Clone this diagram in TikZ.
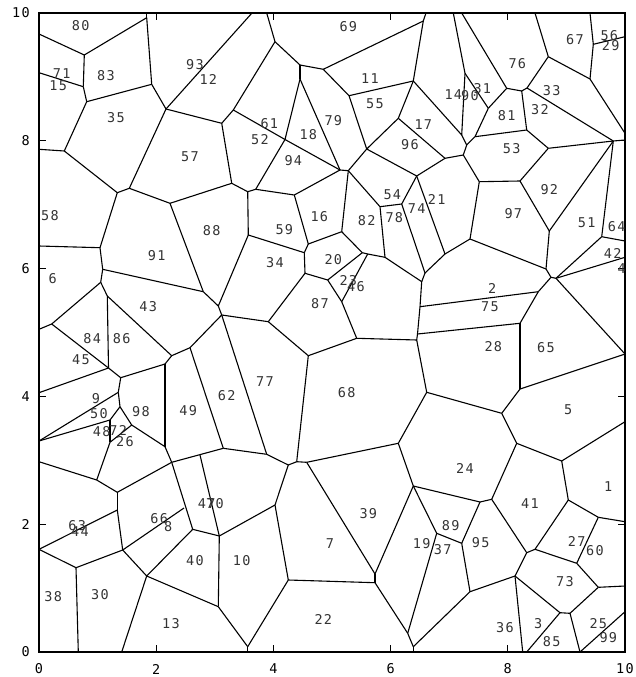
\documentclass[tikz,border=0pt]{standalone}
\usepackage{fontspec}
\newfontfamily\lblfont[LetterSpace=10]{DejaVu Sans Mono}
\begin{document}
\begin{tikzpicture}[x=1pt,y=-1pt,
  edge/.style={line width=1.1pt,black},
  frame/.style={line width=1.6pt,black},
  tick/.style={line width=1pt,black},
  lbl/.style={font=\lblfont\fontsize{13.5}{14}\selectfont,text=black!80,inner sep=0pt},
  axl/.style={font=\lblfont\fontsize{13.5}{14}\selectfont,text=black,inner sep=0pt}]
\useasboundingbox (0,0) rectangle (635,677);
% ---- vertices ----
\coordinate (A) at (84.3,55);
\coordinate (B) at (146.7,17.7);
\coordinate (F) at (83.3,86.7);
\coordinate (C) at (151.7,84.3);
\coordinate (D) at (86.7,101.7);
\coordinate (G) at (64.3,151);
\coordinate (E) at (166,109);
\coordinate (J) at (221.7,123.3);
\coordinate (H) at (117.3,192.7);
\coordinate (H2) at (129.3,188.3);
\coordinate (K) at (170,203.3);
\coordinate (L) at (100,247.7);
\coordinate (M) at (102.7,269.3);
\coordinate (N) at (203.3,291.7);
\coordinate (N2) at (218.3,306);
\coordinate (N3) at (221.7,315);
\coordinate (O) at (100.7,282.3);
\coordinate (P) at (107.3,296);
\coordinate (O2) at (51.7,324);
\coordinate (Q) at (108.5,368);
\coordinate (R) at (120.7,377.7);
\coordinate (S) at (165,364);
\coordinate (U) at (171.7,355.7);
\coordinate (V) at (190,347.7);
\coordinate (T) at (118.3,392.3);
\coordinate (X1) at (120,406.7);
\coordinate (X2) at (110,420);
\coordinate (X3) at (131.7,425);
\coordinate (X4) at (110,442.3);
\coordinate (W) at (165,446.7);
\coordinate (Z) at (171.7,462.3);
\coordinate (Y) at (96.7,480);
\coordinate (AA) at (117.3,492.3);
\coordinate (BB) at (223.3,448.3);
\coordinate (CC) at (266.7,454.3);
\coordinate (DD) at (288.3,465);
\coordinate (EE) at (296.7,461.7);
\coordinate (FF) at (306.7,462.3);
\coordinate (GG) at (308.3,355.7);
\coordinate (b1) at (275,41.7);
\coordinate (b2) at (300,65);
\coordinate (b2a) at (300,79);
\coordinate (b3) at (323.3,69.3);
\coordinate (b4) at (233.3,110);
\coordinate (b6) at (285,139.5);
\coordinate (b7) at (349,95.7);
\coordinate (b8) at (413.3,81);
\coordinate (b9) at (398.3,118.3);
\coordinate (b10) at (366.7,149);
\coordinate (b11) at (340,170);
\coordinate (b12) at (348.3,170.7);
\coordinate (t1) at (423.3,21);
\coordinate (c1) at (255.7,189.3);
\coordinate (c2) at (247.7,191.7);
\coordinate (c3) at (294.3,195);
\coordinate (c4) at (231.7,183.3);
\coordinate (c5) at (248.3,235);
\coordinate (c6) at (304.3,252.7);
\coordinate (c7) at (308.3,244);
\coordinate (c8) at (305,273.3);
\coordinate (c9) at (341.7,231.7);
\coordinate (c10) at (362.3,252.7);
\coordinate (c11) at (327.7,280);
\coordinate (c12) at (367.7,254);
\coordinate (c13) at (341.7,301.7);
\coordinate (c14) at (385,257.3);
\coordinate (c15) at (268.3,321.7);
\coordinate (c16) at (356.7,338.3);
\coordinate (c17) at (416.7,340);
\coordinate (c18) at (380,206.7);
\coordinate (c19) at (421.7,281.7);
\coordinate (c20) at (401.7,204);
\coordinate (c21) at (416.7,176);
\coordinate (c22) at (425,273);
\coordinate (c23) at (420,306.7);
\coordinate (c24) at (417.5,334);
\coordinate (d14) at (461.7,135);
\coordinate (d15) at (465,73.3);
\coordinate (d16) at (488.3,108.3);
\coordinate (d17) at (506.7,88.3);
\coordinate (d18) at (521.7,91);
\coordinate (d19) at (527,88);
\coordinate (d20) at (548.3,56.7);
\coordinate (d1) at (593.3,44.3);
\coordinate (d21) at (590,79);
\coordinate (d22) at (526.7,130);
\coordinate (d23) at (475,136.7);
\coordinate (d24) at (466.7,145);
\coordinate (d25) at (463.3,155);
\coordinate (d26) at (445,158.3);
\coordinate (d27) at (548.3,148.3);
\coordinate (e1) at (613.3,141);
\coordinate (g1) at (479.3,181.7);
\coordinate (g2) at (520,181);
\coordinate (g5) at (470,239);
\coordinate (g6) at (445,254);
\coordinate (g7) at (549.3,231);
\coordinate (g8) at (546,269);
\coordinate (g3) at (551,277.3);
\coordinate (g4) at (556,278.3);
\coordinate (g9) at (538.3,291.7);
\coordinate (g10) at (520,323.3);
\coordinate (g11) at (601.7,236.7);
\coordinate (f1) at (426.7,392.3);
\coordinate (f2) at (501.7,413.3);
\coordinate (f4) at (520,389);
\coordinate (f5) at (516.7,443.3);
\coordinate (f6) at (561.7,461);
\coordinate (HH) at (398.3,443.3);
\coordinate (f3) at (413.3,486);
\coordinate (h1) at (480,502);
\coordinate (h2) at (491.7,499.3);
\coordinate (h3) at (461.7,543.3);
\coordinate (h4) at (436.7,533.3);
\coordinate (h5) at (470,591.7);
\coordinate (h6) at (515,576);
\coordinate (h7) at (526.7,552.7);
\coordinate (h8) at (535,549.3);
\coordinate (h9) at (568.3,500);
\coordinate (h10) at (598.3,517.3);
\coordinate (h11) at (576.7,563.3);
\coordinate (h12) at (598.3,587.3);
\coordinate (h13) at (560,612.7);
\coordinate (h14) at (570,613.3);
\coordinate (i1) at (375,574);
\coordinate (i2) at (375,582.7);
\coordinate (i3) at (288.3,580);
\coordinate (i4) at (275,505);
\coordinate (i5) at (407.7,633.3);
\coordinate (i6) at (413.3,646.7);
\coordinate (i7) at (247.7,646.7);
\coordinate (j1) at (117.3,510);
\coordinate (j2) at (122.7,550);
\coordinate (j3) at (76,567.7);
\coordinate (j4) at (146.7,576);
\coordinate (j5) at (192.7,529.3);
\coordinate (j6) at (219.3,536);
\coordinate (j7) at (218.3,606.7);
\coordinate (j8) at (184,508);
\coordinate (j9) at (200,455);
% frame points
\coordinate (fl1) at (39,34);
\coordinate (fl2) at (39,72.7);
\coordinate (fl3) at (39,149.3);
\coordinate (fl4) at (39,246);
\coordinate (fl5) at (39,329.3);
\coordinate (fl6) at (39,392.7);
\coordinate (fl7) at (39,441);
\coordinate (fl8) at (39,461.7);
\coordinate (fl9) at (39,549.3);
\coordinate (ft1) at (146.7,13);
\coordinate (ft2) at (252,13);
\coordinate (ft3) at (266.7,13);
\coordinate (ft4) at (426,13);
\coordinate (ft5) at (453.3,13);
\coordinate (ft6) at (461.7,13);
\coordinate (ft7) at (535,13);
\coordinate (ft8) at (590,13);
\coordinate (fr1) at (625,36.7);
\coordinate (fr2) at (625,133.3);
\coordinate (fr3) at (625,140);
\coordinate (fr4) at (625,241);
\coordinate (fr5) at (625,257.3);
\coordinate (fr6) at (625,354);
\coordinate (fr7) at (625,421.7);
\coordinate (fr8) at (625,521.7);
\coordinate (fr9) at (625,586);
\coordinate (fr10) at (625,611.7);
\coordinate (fb1) at (78.3,652);
\coordinate (fb2) at (121.7,652);
\coordinate (fb3) at (247.7,652);
\coordinate (fb4) at (413.3,652);
\coordinate (fb5) at (522.7,652);
\coordinate (fb6) at (526.7,652);
\coordinate (fb7) at (580,652);
% ---- edges ----
\foreach \a/\b in {fl1/A,A/B,B/ft1,A/F,F/fl2,F/D,B/C,C/D,C/E,D/G,G/fl3,E/ft2,E/J,E/H2,G/H,H/H2,H2/K,H/L,L/fl4,L/M,M/N,M/O,O/O2,O/P,O2/fl5,O2/Q,P/Q,P/U,Q/fl6,Q/R,R/S,R/T,U/S,U/V,V/N3,V/BB,S/W,T/fl7,T/X1,X1/X2,X1/X3,X2/fl7,X2/X4,X3/X4,X3/W,W/Z,X4/Y,Y/fl8,Y/AA,AA/Z,Z/BB,BB/CC,CC/N3,CC/DD,DD/EE,EE/FF,EE/GG,FF/HH,GG/c15,GG/c16,K/c4,K/N,N/N2,N2/N3,N2/c5,N3/c15}
  \draw[edge] (\a) -- (\b);
\foreach \a/\b in {J/c4,J/b4,b4/b1,b1/ft3,b1/b2,b2/b2a,b2/b3,b2a/b6,b2a/b11,b4/b6,b6/b11,b6/c1,b3/t1,t1/ft4,b3/b7,b7/b8,t1/b8,b7/b10,b8/b9,b9/b10,b8/d14,b9/d26,b10/b12,b10/c21,b11/b12,b11/c3,b12/c9,b12/c18,c1/c2,c1/c3,c2/c4,c2/c5,c5/c6,c6/c7,c6/c8,c3/c7,c7/c9,c9/c10,c10/c11,c10/c12,c8/c11,c8/c15,c11/c13,c12/c13,c12/c14,c13/c16,c16/c17,c14/c18,c14/c19,c18/c20,c20/c21,c20/c22,c21/d26,c21/g6,c22/g6,c22/c19,c19/c23,c23/c24,c23/g9,c24/g10,c24/c17,c17/f1,f1/HH,f1/f2,HH/f3,f3/h1,f3/i1,f3/h4,FF/i1}
  \draw[edge] (\a) -- (\b);
\foreach \a/\b in {ft5/d15,d15/d14,d15/d16,ft6/d17,d16/d17,d17/d18,d18/d19,d19/d20,d20/ft7,d20/d21,d21/d1,d1/ft8,d1/fr1,d21/fr2,d19/e1,d18/d22,d22/d23,d22/d27,d16/d23,d23/d24,d14/d24,d24/d25,d25/d26,d25/g1,g1/g2,g2/d27,d27/e1,g1/g5,g5/g6,g5/g8,g2/g7,g7/g8,g7/e1,g8/g3,g3/g4,g3/g9,g4/g11,g4/fr5,g4/fr6,g11/e1,g11/fr4,e1/fr3,g9/g10,g10/f4,f4/f2,f4/fr6,f2/f5,f5/f6,f5/h2,f6/fr7,f6/h9}
  \draw[edge] (\a) -- (\b);
\foreach \a/\b in {h1/h2,h1/h3,h2/h7,h3/h4,h3/h5,h4/i5,h5/h6,h5/i6,h6/h7,h7/h8,h8/h9,h8/h11,h9/h10,h10/fr8,h10/h11,h11/h12,h12/fr9,h12/h14,h6/fb5,h6/h13,h13/h14,h13/fb6,h14/fb7,fb7/fr10,i1/i2,i2/i3,i2/i5,i5/i6,i6/fb4,i3/i4,i3/i7,i7/fb3,i4/DD,i4/j6,j6/j5,j6/j7,j6/j9,j7/i7,j7/j4,j4/j5,j4/j2,j4/fb2,j5/Z,j2/j1,j2/j3,j2/j8,j1/AA,j1/fl9,j3/fl9,j3/fb1}
  \draw[edge] (\a) -- (\b);
% ---- frame and ticks ----
\draw[frame] (39,13) rectangle (625,652);
\foreach \i in {1,2,3,4} {
  \draw[tick] ({39+\i*117.2},652) -- ++(0,-7);
  \draw[tick] ({39+\i*117.2},13) -- ++(0,7);
  \draw[tick] (39,{652-\i*127.8}) -- ++(7,0);
  \draw[tick] (625,{652-\i*127.8}) -- ++(-7,0);
}
\foreach \i/\t in {0/0,1/2,2/4,3/6,4/8,5/10} {
  \node[axl] (bx\i) at ({39+\i*117.2},669) {\t};
  \node[axl,anchor=east] (ly\i) at (30,{652-\i*127.8}) {\t};
}
% ---- labels ----
\foreach \t/\x/\y in {80/80.7/25.7,71/61.7/73.3,15/58.3/86,83/106/75.7,35/116/117.7,93/195/65,12/208.3/79,57/190/156.7,
 69/348.3/26.7,11/370/79,55/375/103.3,61/269.3/123.3,52/260/140,79/333.3/121,18/308.3/134.3,94/293.3/161,96/410/145,17/423.3/125,
 67/575/40,56/609.3/35.7,29/610.7/45.7,76/517.3/63.3,33/551.7/91,32/540/110,81/506.7/116,53/511.7/149,14/453.3/95,90/470/95.7,31/482.3/89,
 58/50/216,6/52.7/278.3,91/156.7/255.7,88/211.7/231,43/148.3/306.7,84/92.3/338.3,86/121.7/338.3,
 16/319.3/216.7,59/284.3/229.3,82/366.7/221,78/394.3/217.7,54/392.3/195,74/416.7/208.3,34/275/262.3,20/333.3/259.3,23/348.3/281,46/356/286.7,87/320/303.3,
 92/549.3/189.3,97/513.3/213.3,21/436.7/199.3,51/586.7/222.3,64/616.7/226.7,42/612.7/253.3,4/621.7/269,2/492.3/288.3,75/490/306.7,
 45/81/359.3,9/96/399,50/99/414,48/101.7/431.7,72/118.3/430.7,26/125/441.7,98/141/411.7,49/188.3/411,62/226.7/395.7,47/206.7/503.3,70/215/503.3,
 77/265/381.7,68/346.7/392.7,28/493.3/346.7,65/546/347.7,5/568.3/410,24/465/468.3,1/608.3/486.7,41/530/503.3,
 63/77.3/526,44/80/531.7,66/159.3/518.3,8/168.3/526.7,40/195/561,38/53.3/596.7,30/100/595,13/171/623.3,
 39/368.3/513.3,7/330/544,10/241.7/561,22/323.3/619,19/421.7/544,
 89/450.7/526,37/442.7/550,95/480.7/542.3,27/576.7/541.7,60/595/551,73/565/581.7,36/505/627.7,3/538.3/624,25/598.3/624,85/551.7/641.7,99/608.3/637.3}
  \node[lbl] (n\t) at (\x,\y) {\t};
\end{tikzpicture}
\end{document}
